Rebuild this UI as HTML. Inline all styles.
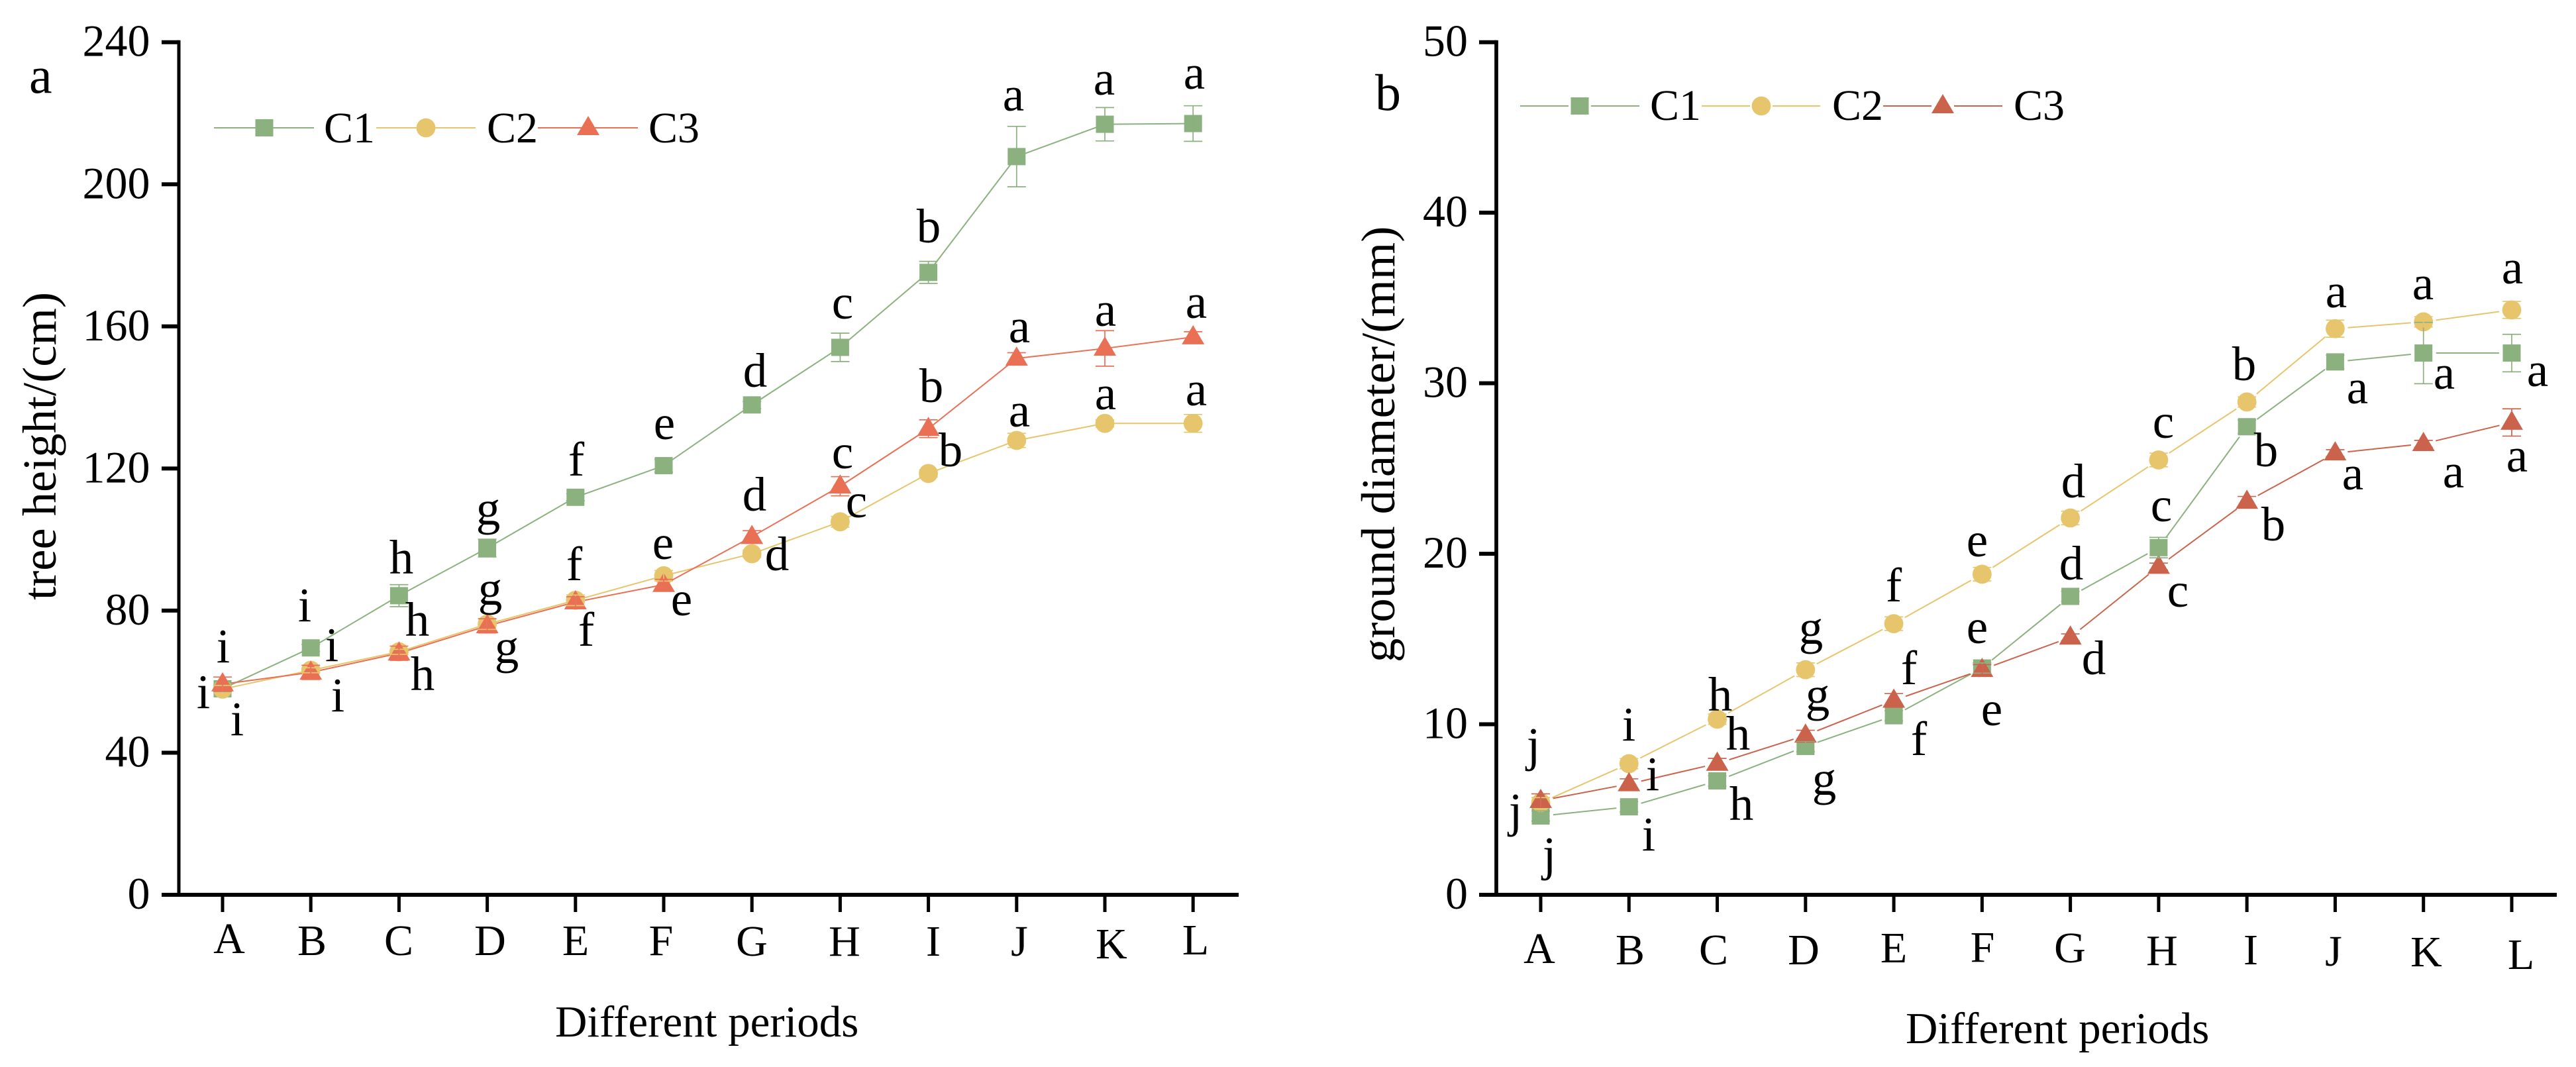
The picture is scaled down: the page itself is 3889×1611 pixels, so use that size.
<!DOCTYPE html>
<html lang="en">
<head>
<meta charset="utf-8">
<title>Tree height and ground diameter across periods</title>
<style>
html,body{margin:0;padding:0;background:#fff;}
svg{display:block;}
text{font-family:"Liberation Serif",serif;font-size:66px;fill:#000;}
.letters text{font-size:73px;}
text.panel-label{font-size:78px;}
text.y-tick-text{font-size:68px;}
text.y-title{font-size:72.5px;}
text.x-title{font-size:67px;}
</style>
</head>
<body>
<svg id="figure" xmlns="http://www.w3.org/2000/svg" width="3889" height="1611" viewBox="0 0 3889 1611">
<rect width="3889" height="1611" fill="#fff"/>

<g id="panel-a">
<text class="panel-label" x="44" y="140">a</text>
<text class="y-title" transform="translate(84 906) rotate(-90)">tree height/(cm)</text>
<text class="x-title" x="838" y="1565">Different periods</text>
<g text-anchor="middle">
<text x="346" y="1439">A</text>
<text x="471" y="1442">B</text>
<text x="602" y="1442">C</text>
<text x="740" y="1442">D</text>
<text x="869" y="1442">E</text>
<text x="998" y="1442">F</text>
<text x="1135" y="1443">G</text>
<text x="1275" y="1443">H</text>
<text x="1409" y="1443">I</text>
<text x="1539" y="1443">J</text>
<text x="1678" y="1447">K</text>
<text x="1805" y="1441">L</text>
</g>
<g id="plot-a"></g>
<g class="letters" text-anchor="middle">
<text x="337" y="1000">i</text>
<text x="307" y="1069">i</text>
<text x="358" y="1110">i</text>
<text x="460" y="938">i</text>
<text x="501" y="998">i</text>
<text x="510" y="1074">i</text>
<text x="606" y="866">h</text>
<text x="630" y="960">h</text>
<text x="638" y="1042">h</text>
<text x="737" y="792">g</text>
<text x="740" y="913">g</text>
<text x="765" y="1001">g</text>
<text x="870" y="718">f</text>
<text x="867" y="876">f</text>
<text x="885" y="975">f</text>
<text x="1003" y="663">e</text>
<text x="1001" y="844">e</text>
<text x="1029" y="929">e</text>
<text x="1140" y="584">d</text>
<text x="1139" y="771">d</text>
<text x="1173" y="861">d</text>
<text x="1272" y="481">c</text>
<text x="1272" y="707">c</text>
<text x="1293" y="781">c</text>
<text x="1402" y="366">b</text>
<text x="1406" y="607">b</text>
<text x="1435" y="704">b</text>
<text x="1530" y="167">a</text>
<text x="1539" y="517">a</text>
<text x="1539" y="644">a</text>
<text x="1667" y="143">a</text>
<text x="1669" y="492">a</text>
<text x="1669" y="618">a</text>
<text x="1803" y="134">a</text>
<text x="1806" y="480">a</text>
<text x="1806" y="612">a</text>
</g>
<g>
<g id="legend-a-keys"></g>
<text x="489" y="215">C1</text>
<text x="735" y="215">C2</text>
<text x="979" y="215">C3</text>
</g>
</g>

<g id="panel-b">
<text class="panel-label" x="2076" y="166">b</text>
<text class="y-title" transform="translate(2105 1000) rotate(-90)">ground diameter/(mm)</text>
<text class="x-title" x="2877" y="1575">Different periods</text>
<g text-anchor="middle">
<text x="2324" y="1454">A</text>
<text x="2461" y="1456">B</text>
<text x="2587" y="1456">C</text>
<text x="2723" y="1456">D</text>
<text x="2859" y="1453">E</text>
<text x="2993" y="1452">F</text>
<text x="3125" y="1453">G</text>
<text x="3264" y="1457">H</text>
<text x="3398" y="1456">I</text>
<text x="3523" y="1458">J</text>
<text x="3663" y="1459">K</text>
<text x="3806" y="1463">L</text>
</g>
<g id="plot-b"></g>
<g class="letters" text-anchor="middle">
<text x="2315" y="1149">j</text>
<text x="2288" y="1248">j</text>
<text x="2339" y="1314">j</text>
<text x="2459" y="1118">i</text>
<text x="2495" y="1193">i</text>
<text x="2489" y="1284">i</text>
<text x="2597" y="1073">h</text>
<text x="2624" y="1132">h</text>
<text x="2629" y="1238">h</text>
<text x="2734" y="972">g</text>
<text x="2744" y="1073">g</text>
<text x="2754" y="1200">g</text>
<text x="2859" y="908">f</text>
<text x="2882" y="1033">f</text>
<text x="2897" y="1140">f</text>
<text x="2985" y="840">e</text>
<text x="2985" y="971">e</text>
<text x="3007" y="1095">e</text>
<text x="3130" y="751">d</text>
<text x="3127" y="875">d</text>
<text x="3161" y="1018">d</text>
<text x="3266" y="661">c</text>
<text x="3263" y="787">c</text>
<text x="3288" y="916">c</text>
<text x="3388" y="574">b</text>
<text x="3421" y="704">b</text>
<text x="3432" y="816">b</text>
<text x="3527" y="464">a</text>
<text x="3559" y="609">a</text>
<text x="3552" y="739">a</text>
<text x="3658" y="452">a</text>
<text x="3690" y="587">a</text>
<text x="3704" y="736">a</text>
<text x="3793" y="428">a</text>
<text x="3831" y="583">a</text>
<text x="3800" y="712">a</text>
</g>
<g>
<g id="legend-b-keys"></g>
<text x="2491" y="181">C1</text>
<text x="2766" y="181">C2</text>
<text x="3040" y="181">C3</text>
</g>
</g>
</svg>

<script>
const categories = ['A','B','C','D','E','F','G','H','I','J','K','L'];

const heightTicks = [0,40,80,120,160,200,240];
const heightC1 = [58,69.5,84.2,97.6,111.9,120.8,137.9,154.1,175.2,207.8,216.9,217.1];
const heightC2 = [57.9,63.2,68.4,76.2,82.9,89.8,96,105,118.6,127.9,132.7,132.7];
const heightC3 = [59.3,62.6,68,75.7,82.4,87.3,100.8,115,131.2,151,153.8,157];
const heightC1Err = [1,1,3.1,2.5,1,1.8,1,4,3.1,8.5,4.7,5];
const heightC2Err = [1,0.7,0.7,1.5,1.5,1.5,1,1.5,1,2,1,2.5];
const heightC3Err = [2,2,2,2,1.5,1.5,1.7,2.7,2.5,1.6,5,1.5];

const diameterTicks = [0,10,20,30,40,50];
const diameterC1 = [4.62,5.16,6.68,8.7,10.5,13.3,17.5,20.36,27.45,31.25,31.77,31.77];
const diameterC2 = [5.4,7.69,10.3,13.2,15.9,18.8,22.1,25.5,28.9,33.2,33.6,34.3];
const diameterC3 = [5.52,6.5,7.7,9.35,11.4,13.2,15.1,19.25,23.06,25.9,26.45,27.7];
const diameterC1Err = [0.3,0.3,0.3,0.3,0.3,0.3,0.3,0.6,0.4,0.4,1.8,1.1];
const diameterC2Err = [0.3,0.3,0.3,0.4,0.4,0.4,0.4,0.4,0.3,0.5,0.3,0.5];
const diameterC3Err = [0.4,0.3,0.3,0.3,0.4,0.3,0.2,0.2,0.3,0.2,0.2,0.8];

const SVG_NS = 'http://www.w3.org/2000/svg';
function make(tag, attrs, parent) {
  const el = document.createElementNS(SVG_NS, tag);
  for (const k in attrs) el.setAttribute(k, attrs[k]);
  parent.appendChild(el);
  return el;
}

function drawMarker(shape, cx, cy, color, parent, name) {
  let el;
  if (shape === 'square') {
    el = make('rect', {x: cx - 13.5, y: cy - 13, width: 27, height: 26, fill: color}, parent);
  } else if (shape === 'circle') {
    el = make('ellipse', {cx: cx, cy: cy, rx: 14.4, ry: 14.4, fill: color}, parent);
  } else {
    el = make('polygon', {points: (cx) + ',' + (cy - 18) + ' ' + (cx + 17) + ',' + (cy + 11) + ' ' + (cx - 17) + ',' + (cy + 11), fill: color}, parent);
  }
  
  
  return el;
}

function drawPanel(cfg) {
  const root = document.getElementById(cfg.target);
  const maxTick = cfg.ticks[cfg.ticks.length - 1];
  const xScale = i => cfg.x0 + i * cfg.xStep;
  const yScale = v => cfg.yBase - v / maxTick * (cfg.yBase - cfg.yTop);

  const axisY = make('line', {x1: cfg.axisX, y1: yScale(maxTick) - 3, x2: cfg.axisX, y2: cfg.yBase + 3, stroke: '#000', 'stroke-width': cfg.axisW}, root);
  
  
  const axisX = make('line', {x1: cfg.axisX - 26, y1: cfg.yBase, x2: cfg.axisEnd, y2: cfg.yBase, stroke: '#000', 'stroke-width': 6}, root);
  
  

  cfg.ticks.forEach(t => {
    const tick = make('line', {x1: cfg.axisX - 26, y1: yScale(t), x2: cfg.axisX, y2: yScale(t), stroke: '#000', 'stroke-width': 6}, root);
    
    
    const label = make('text', {x: cfg.labelX, y: yScale(t) + 21, 'text-anchor': 'end', 'class': 'y-tick-text'}, root);
    
    
    label.textContent = t;
  });
  categories.forEach((c, i) => {
    const tick = make('line', {x1: xScale(i), y1: cfg.yBase, x2: xScale(i), y2: cfg.yBase + 26, stroke: '#000', 'stroke-width': 5}, root);
    
    
  });

  cfg.series.forEach(s => {
    for (let i = 0; i < s.values.length - 1; i++) {
      let x1 = xScale(i), y1 = yScale(s.values[i]), x2 = xScale(i + 1), y2 = yScale(s.values[i + 1]);
      if (cfg.gap > 0) {
        const len = Math.hypot(x2 - x1, y2 - y1);
        const ux = (x2 - x1) / len, uy = (y2 - y1) / len;
        x1 += ux * cfg.gap; y1 += uy * cfg.gap;
        x2 -= ux * cfg.gap; y2 -= uy * cfg.gap;
      }
      const seg = make('line', {x1: x1, y1: y1, x2: x2, y2: y2, stroke: s.color, 'stroke-width': 2}, root);
      
      
    }
  });
  cfg.series.forEach(s => {
    s.values.forEach((v, i) => {
      drawMarker(s.shape, xScale(i), yScale(v), s.color, root, s.name + '-point-' + categories[i]);
    });
  });
  cfg.series.forEach(s => {
    s.values.forEach((v, i) => {
      const x = xScale(i);
      const top = yScale(v + s.errors[i]), bot = yScale(v - s.errors[i]);
      const bar = make('path', {d: 'M' + (x - 14) + ' ' + top + 'H' + (x + 14) + 'M' + x + ' ' + top + 'V' + bot + 'M' + (x - 14) + ' ' + bot + 'H' + (x + 14), fill: 'none', stroke: s.color, 'stroke-width': 1.7}, root);
      
      
    });
  });
}

function drawLegendKey(target, shape, color, x1, x2, cx, y, gap, name) {
  const g = document.getElementById(target);
  const segs = gap > 0 ? [[x1, cx - gap], [cx + gap, x2]] : [[x1, x2]];
  segs.forEach(p => {
    const ln = make('line', {x1: p[0], y1: y, x2: p[1], y2: y, stroke: color, 'stroke-width': 2}, g);
    
    
  });
  drawMarker(shape, cx, y, color, g, name + '-marker');
}

const green = '#8bb17f', yellow = '#e6c56c', redA = '#e97054', redB = '#cb634c';

drawPanel({
  target: 'plot-a', ticks: heightTicks, x0: 336, xStep: 133.2, yBase: 1351, yTop: 63.7,
  axisX: 270, axisW: 5, axisEnd: 1870, labelX: 226.5, gap: 0,
  series: [
    {name: 'height-c1', shape: 'square', color: green, values: heightC1, errors: heightC1Err},
    {name: 'height-c2', shape: 'circle', color: yellow, values: heightC2, errors: heightC2Err},
    {name: 'height-c3', shape: 'triangle', color: redA, values: heightC3, errors: heightC3Err}
  ]
});
drawPanel({
  target: 'plot-b', ticks: diameterTicks, x0: 2326, xStep: 133.27, yBase: 1351, yTop: 63.7,
  axisX: 2259, axisW: 5.7, axisEnd: 3860, labelX: 2216, gap: 19,
  series: [
    {name: 'diameter-c1', shape: 'square', color: green, values: diameterC1, errors: diameterC1Err},
    {name: 'diameter-c2', shape: 'circle', color: yellow, values: diameterC2, errors: diameterC2Err},
    {name: 'diameter-c3', shape: 'triangle', color: redB, values: diameterC3, errors: diameterC3Err}
  ]
});

drawLegendKey('legend-a-keys', 'square', green, 323, 474, 399, 193, 0, 'legend-a-c1');
drawLegendKey('legend-a-keys', 'circle', yellow, 568, 718, 643, 193, 0, 'legend-a-c2');
drawLegendKey('legend-a-keys', 'triangle', redA, 812, 963, 888, 193, 0, 'legend-a-c3');
drawLegendKey('legend-b-keys', 'square', green, 2295, 2475, 2385, 160, 17, 'legend-b-c1');
drawLegendKey('legend-b-keys', 'circle', yellow, 2569, 2748, 2659, 160, 17, 'legend-b-c2');
drawLegendKey('legend-b-keys', 'triangle', redB, 2843, 3023, 2933, 160, 17, 'legend-b-c3');
</script>
</body>
</html>
